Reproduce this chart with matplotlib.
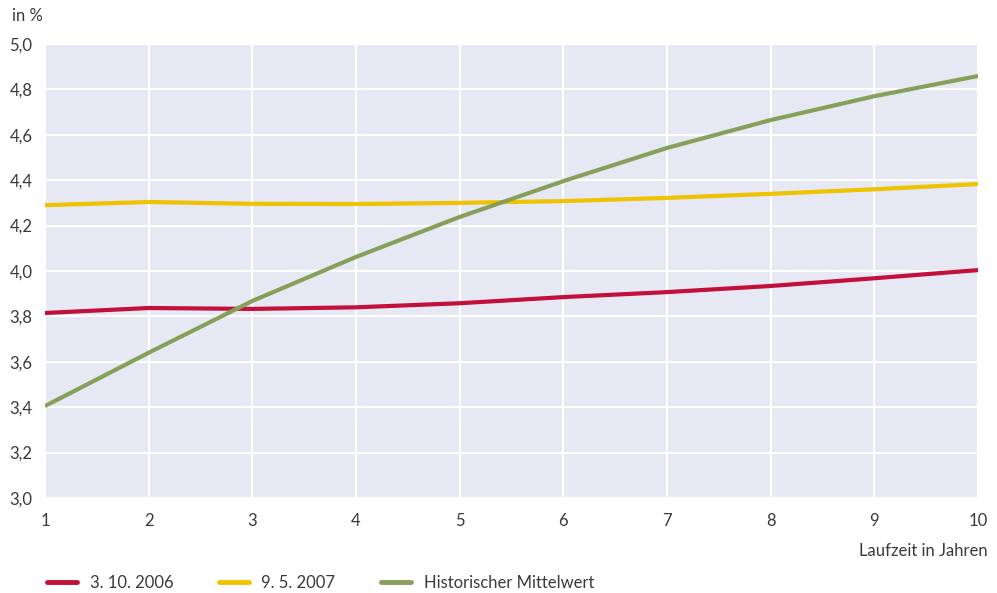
import matplotlib
matplotlib.use("Agg")
import matplotlib.pyplot as plt
from matplotlib.lines import Line2D

plt.rcParams['font.family'] = ['Lato', 'DejaVu Sans']

laufzeit = [1, 2, 3, 4, 5, 6, 7, 8, 9, 10]
s_2006 = [3.815, 3.837, 3.833, 3.840, 3.858, 3.885, 3.907, 3.934, 3.968, 4.004]
s_2007 = [4.290, 4.304, 4.296, 4.295, 4.300, 4.308, 4.322, 4.340, 4.360, 4.383]
s_hist = [3.405, 3.640, 3.868, 4.062, 4.238, 4.396, 4.542, 4.665, 4.770, 4.859]
labels = ["3. 10. 2006", "9. 5. 2007", "Historischer Mittelwert"]
colors = ["#C2103A", "#EFC300", "#86A05A"]
yticks = [3.0, 3.2, 3.4, 3.6, 3.8, 4.0, 4.2, 4.4, 4.6, 4.8, 5.0]

FS = 12
TC = "#3A3A3A"

fig = plt.figure(figsize=(9.97, 5.93), dpi=100)
ax = fig.add_axes([45/997, 1-498/593, (978-45)/997, (498-44)/593])
ax.set_facecolor("#E6E9F3")
for s in ax.spines.values():
    s.set_visible(False)

for data, lab, c in zip([s_2006, s_2007, s_hist], labels, colors):
    ax.plot(laufzeit, data, color=c, lw=3.0, label=lab, solid_capstyle='butt', zorder=3)

ax.set_xlim(1, 10)
ax.set_ylim(3.0, 5.0)
ax.set_xticks(laufzeit)
ax.set_yticks(yticks)
ax.set_yticklabels([f"{v:.1f}".replace('.', ',') for v in yticks])
ax.grid(True, color="white", lw=1.5, zorder=1)
ax.tick_params(length=0, labelsize=FS, colors=TC)
ax.tick_params(axis='y', pad=9)
ax.tick_params(axis='x', pad=11)

fig.text(12/997, 1-16/593, "in %", fontsize=FS, color=TC, va='center', ha='left')
fig.text(988/997, 1-551/593, "Laufzeit in Jahren", fontsize=FS, color=TC, va='center', ha='right')

handles = [Line2D([], [], color=c, lw=3.5, solid_capstyle='round') for c in colors]
leg = fig.legend(handles, labels, loc='center left', bbox_to_anchor=(42/997, 1-583/593),
                 ncol=3, frameon=False, fontsize=FS, handlelength=1.8, handletextpad=0.75,
                 columnspacing=2.75, labelcolor=TC, borderaxespad=0, borderpad=0.3)
fig.savefig("out.png", dpi=100)
